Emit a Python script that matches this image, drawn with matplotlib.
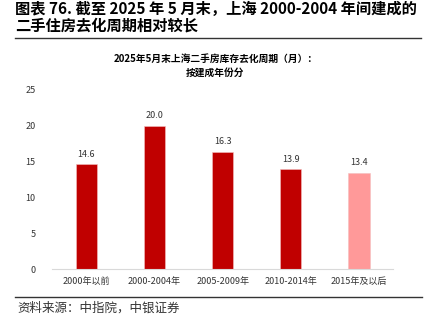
import matplotlib.pyplot as plt

plt.rcParams['font.family'] = ['Noto Sans CJK SC', 'DejaVu Sans']

categories = ["2000年以前", "2000-2004年", "2005-2009年", "2010-2014年", "2015年及以后"]
values = [14.6, 20.0, 16.3, 13.9, 13.4]
colors = ["#C00000", "#C00000", "#C00000", "#C00000", "#FF9999"]

fig = plt.figure(figsize=(4.31, 3.23), dpi=100)

# header
fig.text(0.035, 0.972, "图表 76. 截至 2025 年 5 月末，上海 2000-2004 年间建成的",
         fontsize=11, fontweight="bold", va="center", ha="left")
fig.text(0.035, 0.922, "二手住房去化周期相对较长",
         fontsize=11, fontweight="bold", va="center", ha="left")
fig.add_artist(plt.Line2D([0.035, 0.977], [0.882, 0.882], color="#333333", lw=1.0))

fig.text(0.5, 0.818, "2025年5月末上海二手房库存去化周期（月）：",
         fontsize=7, fontweight="bold", ha="center", va="center")
fig.text(0.5, 0.776, "按建成年份分",
         fontsize=7, fontweight="bold", ha="center", va="center")

ax = fig.add_axes([0.121, 0.167, 0.791, 0.555])
x = range(len(categories))
bars = ax.bar(x, values, width=0.31, color=colors, edgecolor="#F4C0C0", linewidth=0.4)
for xi, v in zip(x, values):
    ax.text(xi, v + 0.8, f"{v:.1f}", ha="center", va="bottom", fontsize=6.5, color="#333333")

ax.set_xlim(-0.5, 4.5)
ax.set_ylim(0, 25)
ax.set_yticks([0, 5, 10, 15, 20, 25])
ax.set_xticks(list(x))
ax.set_xticklabels(categories, fontsize=6.5, color="#333333")
ax.tick_params(axis="y", labelsize=6.5, colors="#333333", length=0, pad=12)
ax.tick_params(axis="x", length=0, pad=6)
for s in ["top", "right", "left"]:
    ax.spines[s].set_visible(False)
ax.spines["bottom"].set_color("#D9D9D9")
ax.spines["bottom"].set_linewidth(0.8)

fig.add_artist(plt.Line2D([0.035, 0.98], [0.08, 0.08], color="#333333", lw=1.0))
fig.text(0.04, 0.045, "资料来源：中指院，中银证券", fontsize=9, style="italic",
         ha="left", va="center", color="#333333")

fig.savefig("out.png", dpi=100)
